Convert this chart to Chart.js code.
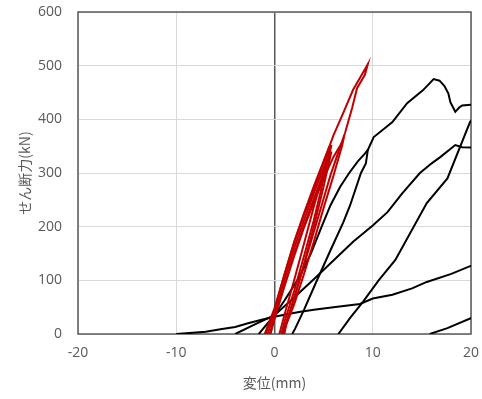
<!DOCTYPE html>
<html>
<head>
<meta charset="utf-8">
<script src="https://cdn.jsdelivr.net/npm/chart.js@4/dist/chart.umd.min.js"></script>
<style>
  body { margin: 0; background: #fff; }
  #wrap { width: 482px; height: 399px; }
</style>
</head>
<body>
<div id="wrap"><canvas id="shearChart"></canvas></div>
<script>
// axis ticks
const xTicks = [-20, -10, 0, 10, 20];
const yTicks = [0, 100, 200, 300, 400, 500, 600];

// red specimen: [disp mm, shear kN]
const red1 = [[-0.9,0],[0,45],[1,110],[2,172],[3,225],[4,275],[5,322],[5.6,350],[5.5,340],[5,303],[4,237],[3,168],[2,100],[1,35],[0.5,0]];
const red2 = [[-0.7,0],[0,38],[1,100],[2,160],[3,212],[4,262],[5,310],[5.8,352],[5.7,344],[5.2,305],[4.5,250],[4,212],[3,145],[2,80],[1,22],[0.7,0]];
const red3 = [[-0.4,0],[0,28],[1,90],[2,150],[3,202],[4,252],[5,300],[5.8,340],[5.7,332],[5.3,300],[5,275],[4,200],[3,130],[2,65],[1,12],[0.8,0]];
const red4 = [[-0.5,0],[0,30],[1,88],[2,145],[3,198],[4,245],[5,290],[6,330],[7,361],[6.9,352],[6,295],[5,235],[4,172],[3,112],[2,55],[1,8],[0.9,0]];
const red5 = [[-1,0],[0,48],[1,110],[2,170],[3,222],[4,268],[5,320],[6,370],[7,412],[8,455],[9,487],[9.5,503],[9.2,483],[8.4,458],[7.9,421],[7.2,376],[6.5,339],[5.7,296],[4.9,246],[4,190],[3,128],[2,68],[1.2,18],[1,0]];

// black specimen
const black1 = [[-1.6,0],[-0.6,22],[0,35],[1,62],[2.5,105],[3.7,150],[4.8,200],[5.7,240],[6.7,275],[7.6,300],[8.5,322],[9.2,336],[9.5,343],[10.1,367],[11,380],[12,395],[13.5,430],[15.1,454],[16.2,475],[16.8,472],[17.3,462],[17.7,448],[17.9,432],[18.4,414],[18.8,422],[19.1,426],[20,427],[20.5,427]];
const black2 = [[9.5,343],[9.3,318],[8.8,300],[7.7,240],[7,208],[5.7,156],[4.2,95],[3,45],[2.1,10],[1.8,0]];
const black3 = [[-4,0],[-2.1,17],[0,35],[2,68],[4,102],[6,137],[8,172],[10,202],[11.5,227],[13,262],[14.8,300],[16,318],[16.9,330],[18.4,352],[19.1,348],[20.5,347]];
const black4 = [[20.2,402],[19.9,395],[17.6,290],[15.5,244],[12.3,138],[10.6,100],[9,60],[7.7,30],[6.5,0]];
const black5 = [[15.8,0],[17.6,11],[20.3,32]];
const black6 = [[-10,0],[-7,4],[-5.5,9],[-4,13],[-2.7,20],[-1,28],[0,32],[1,36],[2.5,41],[4,45],[6,50],[8.7,56],[10,66],[12,73],[14,85],[15.5,97],[18,112],[20.5,131]];

const redSeries = [red1, red2, red3, red4, red5];
const blackSeries = [black1, black2, black3, black4, black5, black6];

function toPts(arr) {
    return arr.map(p => ({ x: p[0], y: p[1] }));
}

function lineSet(arr, color) {
    return {
        data: toPts(arr),
        showLine: true,
        borderColor: color,
        borderWidth: 2,
        pointRadius: 0,
        fill: false,
        tension: 0
    };
}

// red first so it is painted over the black lines
const datasets = redSeries.map(s => lineSet(s, '#c00000'))
    .concat(blackSeries.map(s => lineSet(s, '#000000')));

const framePlugin = {
    id: 'frame',
    beforeDatasetsDraw(chart) {
        const a = chart.chartArea;
        const c = chart.ctx;
        c.save();
        c.strokeStyle = '#595959';
        c.lineWidth = 1.5;
        c.strokeRect(a.left, a.top, a.right - a.left, a.bottom - a.top);
        c.restore();
    }
};

const tickFont = { family: '"Open Sans", "Noto Sans", sans-serif', size: 14 };
const titleFont = { family: '"Noto Sans CJK JP", "Noto Sans", sans-serif', size: 14 };

const ctx = document.getElementById('shearChart').getContext('2d');
const shearChart = new Chart(ctx, {
    type: 'scatter',
    data: { datasets: datasets },
    options: {
        responsive: true,
        maintainAspectRatio: false,
        animation: false,
        layout: { padding: { top: 12, right: 11, left: 0, bottom: 0 } },
        plugins: {
            legend: { display: false },
            tooltip: { enabled: false }
        },
        scales: {
            x: {
                type: 'linear',
                min: xTicks[0],
                max: xTicks[xTicks.length - 1],
                afterBuildTicks: scale => { scale.ticks = xTicks.map(v => ({ value: v })); },
                afterFit: scale => {
                    scale.height = 65;
                    scale.paddingLeft = 0;
                    scale.paddingRight = 0;
                },
                grid: {
                    color: c => c.tick && c.tick.value === 0 ? '#595959' : '#d9d9d9',
                    lineWidth: c => c.tick && c.tick.value === 0 ? 1.5 : 1,
                    drawTicks: false
                },
                border: { display: false },
                ticks: { color: '#595959', font: tickFont, padding: 11, maxRotation: 0 },
                title: { display: true, text: '変位(mm)', color: '#595959', font: titleFont, padding: { top: 0, bottom: 8 } }
            },
            y: {
                type: 'linear',
                min: yTicks[0],
                max: yTicks[yTicks.length - 1],
                afterBuildTicks: scale => { scale.ticks = yTicks.map(v => ({ value: v })); },
                afterFit: scale => {
                    scale.width = 78;
                    scale.paddingTop = 0;
                    scale.paddingBottom = 0;
                },
                grid: { color: '#d9d9d9', drawTicks: false },
                border: { display: false },
                ticks: { color: '#595959', font: tickFont, padding: 16 },
                title: { display: true, text: 'せん断力(kN)', color: '#595959', font: titleFont, padding: { top: 16, bottom: 0 } }
            }
        }
    },
    plugins: [framePlugin]
});
</script>
</body>
</html>
